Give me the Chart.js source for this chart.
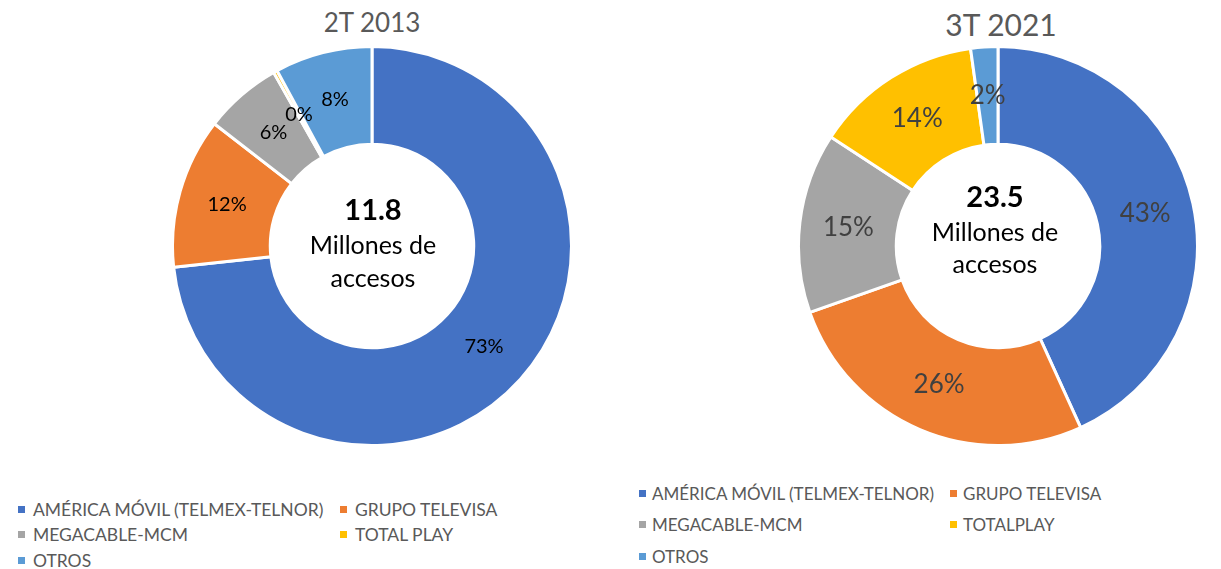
<!DOCTYPE html>
<html>
<head>
<meta charset="utf-8">
<script src="https://cdn.jsdelivr.net/npm/chart.js@4.4.0/dist/chart.umd.min.js"></script>
<style>
  body { margin: 0; background: #fff; font-family: Lato, "Open Sans", sans-serif; }
  #page { position: relative; width: 1221px; height: 569px; overflow: hidden; }
  .txt { position: absolute; white-space: nowrap; text-align: center; line-height: 1; }
  .leg { position: absolute; white-space: nowrap; line-height: 1; color: #595959; }
  .leg i { position: absolute; width: 7px; height: 7px; }
  canvas { position: absolute; }
</style>
</head>
<body>
<div id="page">
  <canvas id="chart2013" width="402" height="402" style="left:171px; top:45px;"></canvas>
  <canvas id="chart2021" width="402" height="402" style="left:797px; top:45px;"></canvas>

  <div class="txt" style="left:272px; width:200px; top:9px; font-size:26px; color:#595959;">2T 2013</div>
  <div class="txt" style="left:901px; width:200px; top:9px; font-size:30px; color:#595959;">3T 2021</div>

  <div class="txt" style="left:273px; width:200px; top:194px; font-size:29px; font-weight:bold; color:#000;">11.8</div>
  <div class="txt" style="left:273px; width:200px; top:232px; font-size:25px; color:#000;">Millones de</div>
  <div class="txt" style="left:273px; width:200px; top:265px; font-size:25px; color:#000;">accesos</div>

  <div class="txt" style="left:895px; width:200px; top:181px; font-size:29px; font-weight:bold; color:#000;">23.5</div>
  <div class="txt" style="left:895px; width:200px; top:219px; font-size:25px; color:#000;">Millones de</div>
  <div class="txt" style="left:895px; width:200px; top:251px; font-size:25px; color:#000;">accesos</div>
</div>
<script>
// categories
const labels2013 = ['AMÉRICA MÓVIL (TELMEX-TELNOR)', 'GRUPO TELEVISA', 'MEGACABLE-MCM', 'TOTAL PLAY', 'OTROS'];
const labels2021 = ['AMÉRICA MÓVIL (TELMEX-TELNOR)', 'GRUPO TELEVISA', 'MEGACABLE-MCM', 'TOTALPLAY', 'OTROS'];
// share of accesses (%)
const share2013 = [73.3, 12.2, 6.3, 0.3, 7.9];
const share2021 = [43.2, 26.4, 14.6, 13.6, 2.2];
const colors = ['#4472C4', '#ED7D31', '#A5A5A5', '#FFC000', '#5B9BD5'];

// percent labels in the middle of each slice
const pctLabels = {
  id: 'pctLabels',
  afterDatasetsDraw(chart, args, opts) {
    const ctx = chart.ctx;
    const data = chart.data.datasets[0].data;
    const total = data.reduce((a, b) => a + b, 0);
    ctx.save();
    ctx.font = opts.font;
    ctx.fillStyle = opts.color;
    ctx.textAlign = 'center';
    ctx.textBaseline = 'middle';
    chart.getDatasetMeta(0).data.forEach((arc, i) => {
      const p = arc.tooltipPosition(true);
      ctx.fillText(Math.round(data[i] / total * 100) + '%', p.x, p.y);
    });
    ctx.restore();
  }
};

function makeDoughnut(id, labels, values, labelFont, labelColor) {
  return new Chart(document.getElementById(id), {
    type: 'doughnut',
    data: {
      labels: labels,
      datasets: [{
        data: values,
        backgroundColor: colors,
        borderColor: '#ffffff',
        borderWidth: 3
      }]
    },
    options: {
      responsive: false,
      animation: false,
      cutout: '51%',
      plugins: {
        legend: { display: false },
        tooltip: { enabled: false },
        pctLabels: { font: labelFont, color: labelColor }
      }
    },
    plugins: [pctLabels]
  });
}

makeDoughnut('chart2013', labels2013, share2013, '20px Lato', '#000000');
makeDoughnut('chart2021', labels2021, share2021, '26px Lato', '#404040');

// html legends, two columns
function makeLegend(labels, colX, rowY, textGap, size) {
  const page = document.getElementById('page');
  labels.forEach((txt, i) => {
    const x = colX[i % 2], y = rowY[Math.floor(i / 2)];
    const d = document.createElement('div');
    d.className = 'leg';
    d.style.fontSize = size + 'px';
    d.style.left = x + 'px';
    d.style.top = (y - 9) + 'px';
    d.style.paddingLeft = textGap + 'px';
    const sq = document.createElement('i');
    sq.style.background = colors[i];
    sq.style.left = '0px';
    sq.style.top = '5px';
    d.appendChild(sq);
    d.appendChild(document.createTextNode(txt));
    page.appendChild(d);
  });
}
makeLegend(labels2013, [18, 340], [510, 535, 561], 15, 17.5);
makeLegend(labels2021, [639, 950], [494, 525, 557], 13, 17);
</script>
</body>
</html>
